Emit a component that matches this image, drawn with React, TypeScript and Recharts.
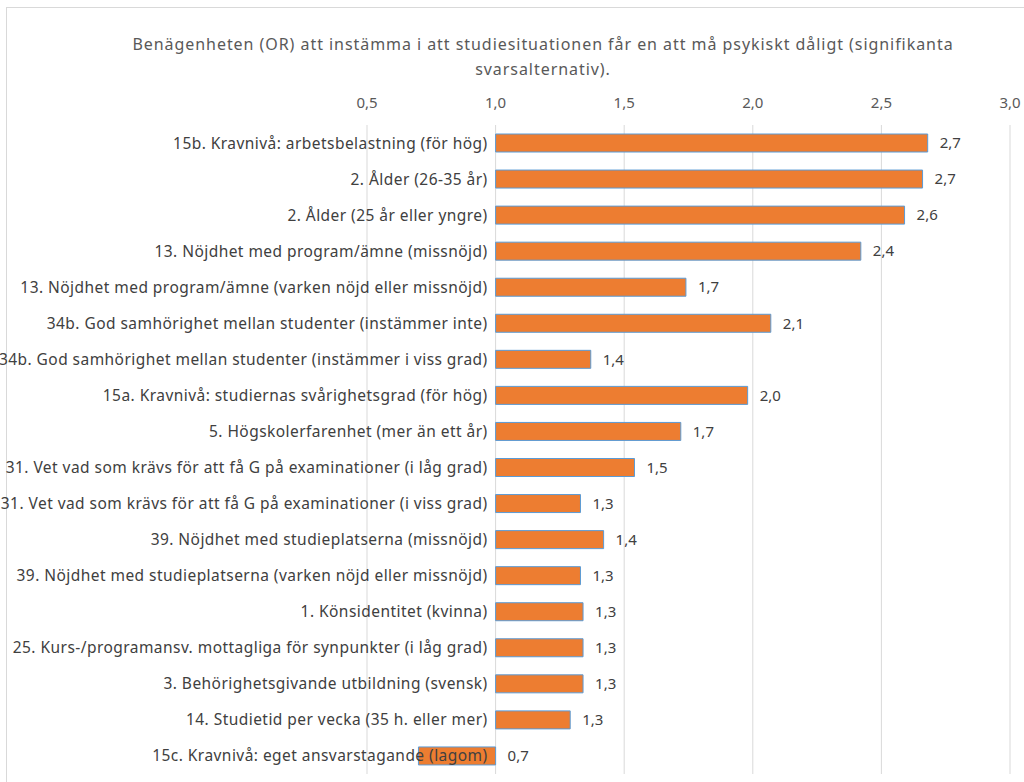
import React from "react";
import { BarChart, Bar, XAxis, YAxis, CartesianGrid, LabelList } from "recharts";

const categories = [
  "15b. Kravnivå: arbetsbelastning (för hög)",
  "2. Ålder (26-35 år)",
  "2. Ålder (25 år eller yngre)",
  "13. Nöjdhet med program/ämne (missnöjd)",
  "13. Nöjdhet med program/ämne (varken nöjd eller missnöjd)",
  "34b. God samhörighet mellan studenter (instämmer inte)",
  "34b. God samhörighet mellan studenter (instämmer i viss grad)",
  "15a. Kravnivå: studiernas svårighetsgrad (för hög)",
  "5. Högskolerfarenhet (mer än ett år)",
  "31. Vet vad som krävs för att få G på examinationer (i låg grad)",
  "31. Vet vad som krävs för att få  G på examinationer (i viss grad)",
  "39. Nöjdhet med studieplatserna (missnöjd)",
  "39. Nöjdhet med studieplatserna (varken nöjd eller missnöjd)",
  "1. Könsidentitet (kvinna)",
  "25. Kurs-/programansv. mottagliga för synpunkter (i låg grad)",
  "3. Behörighetsgivande utbildning (svensk)",
  "14. Studietid per vecka (35 h. eller mer)",
  "15c. Kravnivå: eget ansvarstagande (lagom)",
];

const oddsRatios = [
  2.68, 2.66, 2.59, 2.42, 1.74, 2.07, 1.37, 1.98, 1.72, 1.54, 1.33, 1.42, 1.33, 1.34, 1.34, 1.34, 1.29, 0.7,
];

const xTicks = [0.5, 1.0, 1.5, 2.0, 2.5, 3.0];
// the value axis crosses at OR = 1, bars grow from there
const baseline = 1.0;

const title1 = "Benägenheten  (OR) att instämma i att studiesituationen får en att må psykiskt dåligt (signifikanta";
const title2 = "svarsalternativ).";

const data = categories.map((name, i) => ({
  name,
  or: oddsRatios[i],
  diff: oddsRatios[i] - baseline,
}));

const W = 1024;
const H = 782;
const LEFT = 367;
const RIGHT_MARGIN = 14;
const PLOT_W = W - LEFT - RIGHT_MARGIN;
const MIN = xTicks[0];
const MAX = xTicks[xTicks.length - 1];
const FONT = "'Noto Sans', 'Open Sans', sans-serif";
// shift of the category labels from the plot's left edge to the crossing at 1.0
const LABEL_DX = ((baseline - MIN) / (MAX - MIN)) * PLOT_W;

const fmt = (v: number) => v.toFixed(1).replace(".", ",");

function ValueLabel(props: any) {
  const { x, y, width, height, value } = props;
  const right = Math.max(x, x + width);
  return (
    <text x={right + 12} y={y + height / 2} dy="0.35em" fill="#404040" fontSize={15} fontFamily={FONT}>
      {fmt(Number(value))}
    </text>
  );
}

export default function App() {
  return (
    <div style={{ position: "absolute", left: 0, top: 0, width: W, height: H, background: "#fff", overflow: "hidden" }}>
      <div
        style={{
          position: "absolute", left: 6, top: 7, width: W, height: H,
          borderTop: "1px solid #d9d9d9", borderLeft: "1px solid #d9d9d9",
        }}
      />
      <div
        style={{
          position: "absolute", left: 0, top: 32, width: 1086, textAlign: "center",
          fontFamily: FONT, fontSize: 16, color: "#595959", lineHeight: "25px", letterSpacing: 0.95,
        }}
      >
        <div>{title1}</div>
        <div>{title2}</div>
      </div>
      <div style={{ position: "absolute", left: 0, top: 0 }}>
        <BarChart
          width={W}
          height={H}
          data={data}
          layout="vertical"
          margin={{ top: 95, right: RIGHT_MARGIN, left: 0, bottom: 8 }}
        >
          <CartesianGrid horizontal={false} stroke="#d9d9d9" />
          <XAxis
            type="number"
            orientation="top"
            domain={[MIN - baseline, MAX - baseline]}
            ticks={xTicks.map((t) => t - baseline)}
            tickFormatter={(t: number) => fmt(t + baseline)}
            axisLine={false}
            tickLine={false}
            height={30}
            tickMargin={11}
            tick={{ fill: "#595959", fontSize: 15, fontFamily: FONT }}
          />
          <YAxis
            type="category"
            dataKey="name"
            width={LEFT}
            axisLine={false}
            tickLine={false}
            interval={0}
            tick={{ fill: "#404040", fontSize: 15.5, fontFamily: FONT, dx: LABEL_DX, letterSpacing: 0.45, width: 2000 }}
          />
          <Bar dataKey="diff" barSize={18} fill="#ED7D31" stroke="#5B9BD5" strokeWidth={1} isAnimationActive={false}>
            <LabelList dataKey="or" content={<ValueLabel />} />
          </Bar>
        </BarChart>
      </div>
    </div>
  );
}
